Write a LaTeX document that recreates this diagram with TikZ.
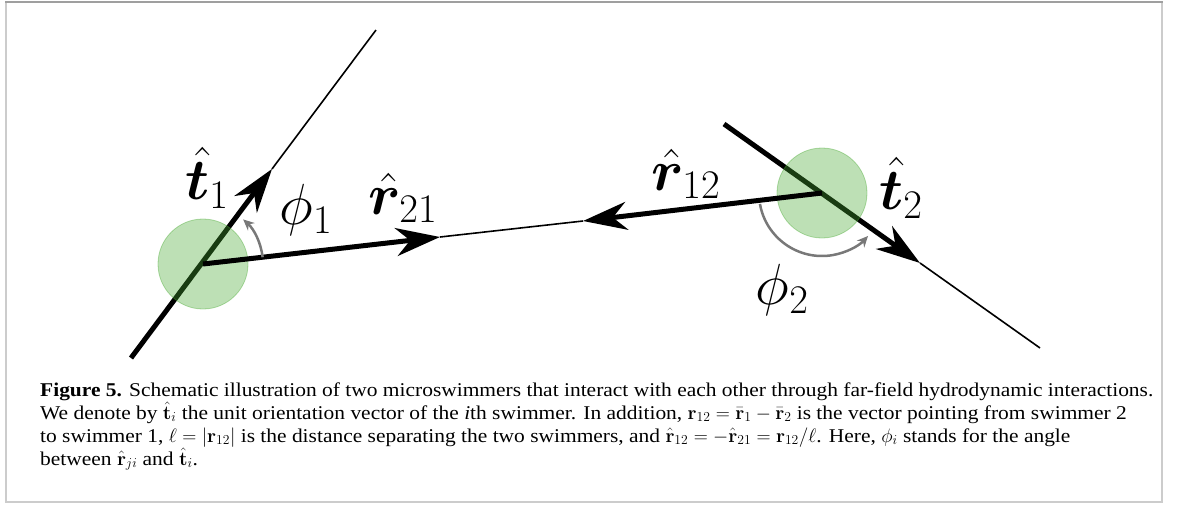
\documentclass[tikz,border=0pt]{standalone}
\usepackage{fix-cm}
\usepackage[no-math]{fontspec}
\usepackage{amsmath,bm}
\usetikzlibrary{arrows.meta}
\newfontfamily\capfont[FakeStretch=1.1]{Liberation Serif}
\definecolor{swimgreen}{RGB}{72,169,50}
\definecolor{arcgray}{RGB}{120,120,120}
\tikzset{
  thickvec/.style={line width=5pt, line cap=butt},
  thinline/.style={line width=1.6pt},
  bigtip/.style={-{Stealth[length=44pt,width=28pt,inset=14pt]}},
  swimmer/.style={circle, minimum size=90pt, inner sep=0pt, fill=swimgreen, fill opacity=0.36, draw=swimgreen, draw opacity=0.4, line width=0.8pt},
  anglearc/.style={draw=arcgray, line width=2.5pt, -{Stealth[length=11pt,width=10pt]}},
  biglabel/.style={font=\fontsize{58}{70}\selectfont, inner sep=0pt},
}
\begin{document}
\begin{tikzpicture}[x=1pt,y=-1pt]
\useasboundingbox (0,0) rectangle (1179,504);
% frame
\draw[gray!40, line width=2pt] (6,2) -- (6,502) -- (1162,502) -- (1162,2);
\draw[gray!75, line width=2pt] (5,2) -- (1163,2);

% coordinates
\coordinate (a1) at (131,358);
\coordinate (c1) at (203,264);
\coordinate (tip1) at (272,169);
\coordinate (e1) at (376,30);
\coordinate (rtip21) at (440,237);
\coordinate (mid) at (583,221);
\coordinate (a2) at (724,124);
\coordinate (c2) at (822,193);
\coordinate (tip2) at (920,263);
\coordinate (e2) at (1040,348);

% orientation lines
\draw[thinline] (tip1) -- (e1);
\draw[thickvec, bigtip] (a1) -- (tip1);
\draw[thinline] (tip2) -- (e2);
\draw[thickvec, bigtip] (a2) -- (tip2);

% swimmers
\node[swimmer] (s1) at (c1) {};
\node[swimmer] (s2) at (c2) {};

% separation vectors
\draw[thinline] (rtip21) -- (mid);
\draw[thickvec, bigtip] (s1.center) -- (rtip21);
\draw[thickvec, bigtip] (s2.center) -- (mid);

% angle arcs
\draw[anglearc] ([shift={(-6.5:60)}]s1.center) arc[start angle=-6.5, end angle=-48, radius=60];
\draw[anglearc] ([shift={(170:63)}]s2.center) arc[start angle=170, end angle=43, radius=63];

% labels
\node[biglabel] (lt1) at (207,178) {$\hat{\bm{t}}_1$};
\node[biglabel] (lphi1) at (306,210) {$\phi_1$};
\node[biglabel] (lr21) at (403,198) {$\hat{\bm{r}}_{21}$};
\node[biglabel] (lr12) at (686,174) {$\hat{\bm{r}}_{12}$};
\node[biglabel] (lt2) at (901,188) {$\hat{\bm{t}}_2$};
\node[biglabel] (lphi2) at (782,290) {$\phi_2$};

% caption
\node[anchor=base west, align=left, inner sep=0pt, font=\capfont\fontsize{19.5}{23}\selectfont] (cap) at (40,465) {%
{\bfseries Figure 5.} Schematic illustration of two microswimmers that interact with each other through far-field hydrodynamic interactions.\\
We denote by $\hat{\mathbf{t}}_i$ the unit orientation vector of the \textit{i}th swimmer. In addition, $\mathbf{r}_{12}=\bar{\mathbf{r}}_1-\bar{\mathbf{r}}_2$ is the vector pointing from swimmer 2\\
to swimmer 1, $\ell=|\mathbf{r}_{12}|$ is the distance separating the two swimmers, and $\hat{\mathbf{r}}_{12}=-\hat{\mathbf{r}}_{21}=\mathbf{r}_{12}/\ell$. Here, $\phi_i$ stands for the angle\\
between $\hat{\mathbf{r}}_{ji}$ and $\hat{\mathbf{t}}_i$.};
\end{tikzpicture}
\end{document}
